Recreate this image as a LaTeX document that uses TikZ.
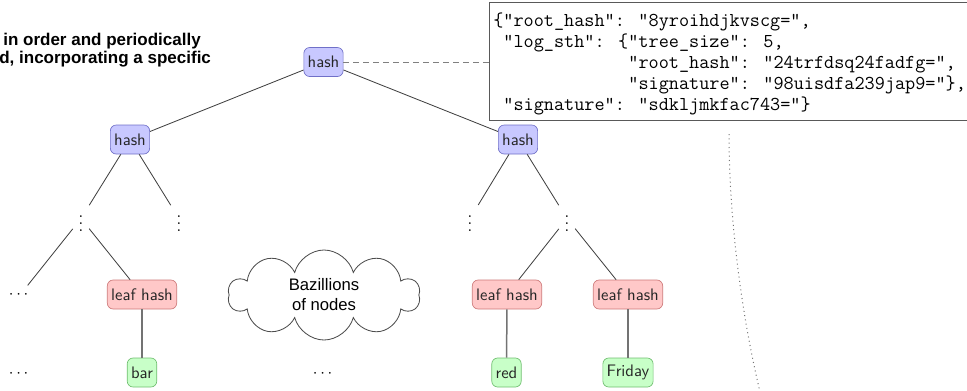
\documentclass[tikz,border=0pt]{standalone}
\usepackage{amsmath, amssymb}
\usepackage{fontspec}
\newfontfamily\slidefont{Liberation Sans}
\usepackage{tikz}
\usetikzlibrary{shapes.symbols,positioning}

\definecolor{hashfill}{RGB}{200,200,255}
\definecolor{hashline}{RGB}{112,112,200}
\definecolor{leaffill}{RGB}{255,200,200}
\definecolor{leafline}{RGB}{205,120,120}
\definecolor{valfill}{RGB}{200,255,200}
\definecolor{valline}{RGB}{112,190,112}

\tikzset{
    treenode/.style={rounded corners=3.5pt, inner xsep=2.3pt, inner ysep=2pt,
        minimum height=17.4pt, font=\sffamily, text=black!85},
    hashnode/.style={treenode, fill=hashfill, draw=hashline},
    leafnode/.style={treenode, fill=leaffill, draw=leafline},
    valnode/.style={treenode, fill=valfill, draw=valline},
    treeline/.style={draw=black!75, line width=0.5pt},
    valline/.style={draw=black!55, line width=0.9pt},
}

\begin{document}
\begin{tikzpicture}[x=0.6pt,y=-0.6pt]
    \useasboundingbox (0,0) rectangle (967,390);
    % Slide text, cut at the left edge
    \node[anchor=base west, inner sep=0pt, font=\slidefont\fontsize{10.2}{12}\selectfont\bfseries]
        (introA) at (3,45) {in order and periodically};
    \node[anchor=base west, inner sep=0pt, font=\slidefont\fontsize{10.2}{12}\selectfont\bfseries]
        (introB) at (-1,63) {d, incorporating a specific};
    % Signed tree head
    \draw[draw=black!65, line width=0.6pt] (489,2) rectangle (1000,120);
    \coordinate (sthbox) at (489,62);
    \node[anchor=north west, inner sep=0pt, align=left,
        font=\fontsize{11.8}{12.6}\selectfont\ttfamily] (sth) at (493,13)
        {\{"root\_hash": "8yroihdjkvscg=",\\
         ~"log\_sth": \{"tree\_size": 5,\\
         \phantom{~"log\_sth": \{}"root\_hash": "24trfdsq24fadfg=",\\
         \phantom{~"log\_sth": \{}"signature": "98uisdfa239jap9="\},\\
         ~"signature": "sdkljmkfac743="\}};
    % Tree
    \node[hashnode] (root) at (323.5,62) {hash};
    \node[hashnode] (hashL) at (130,139.5) {hash};
    \node[hashnode] (hashR) at (518,139.5) {hash};
    \node (vdLa) at (81,218.5) {$\vdots$};
    \node (vdLb) at (179,218.5) {$\vdots$};
    \node (vdRa) at (470,218.5) {$\vdots$};
    \node (vdRb) at (567,218.5) {$\vdots$};
    \node (dotsL) at (20,295) {$\cdots$};
    \node[leafnode] (leafL) at (142,294.5) {leaf hash};
    \node[leafnode] (leafRa) at (507,294.5) {leaf hash};
    \node[leafnode] (leafRb) at (628,294.5) {leaf hash};
    \node[valnode] (bar) at (142,372.5) {bar};
    \node[valnode] (red) at (506.5,372.5) {red};
    \node[valnode] (friday) at (628,372.5) {Friday};
    \node (dotsB) at (20,373.5) {$\cdots$};
    \node (dotsC) at (324,373.5) {$\cdots$};
    \node[cloud, draw=black!70, line width=0.5pt, cloud puffs=10, aspect=2.1,
        minimum width=115pt, minimum height=54pt, inner sep=0pt,
        align=center, font=\slidefont\fontsize{10}{12}\selectfont] (cloud) at (324,295)
        {Bazillions\\of nodes};
    % Connectors
    \draw[treeline] (root) -- (hashL);
    \draw[treeline] (root) -- (hashR);
    \draw[treeline] (hashL) -- (vdLa);
    \draw[treeline] (hashL) -- (vdLb);
    \draw[treeline] (hashR) -- (vdRa);
    \draw[treeline] (hashR) -- (vdRb);
    \draw[treeline] (vdLa) -- (dotsL);
    \draw[treeline] (vdLa) -- (leafL);
    \draw[treeline] (vdRb) -- (leafRa);
    \draw[treeline] (vdRb) -- (leafRb);
    \draw[valline] (leafL) -- (bar);
    \draw[valline] (leafRa) -- (red);
    \draw[valline] (leafRb) -- (friday);
    \draw[black!50, dash pattern=on 3.6pt off 2.4pt] (root) -- (sthbox);
    % Edge of the next figure
    \draw[black!55, dotted, line width=0.6pt]
        (729,134) .. controls (729,220) and (742,320) .. (762,400);
\end{tikzpicture}
\end{document}
